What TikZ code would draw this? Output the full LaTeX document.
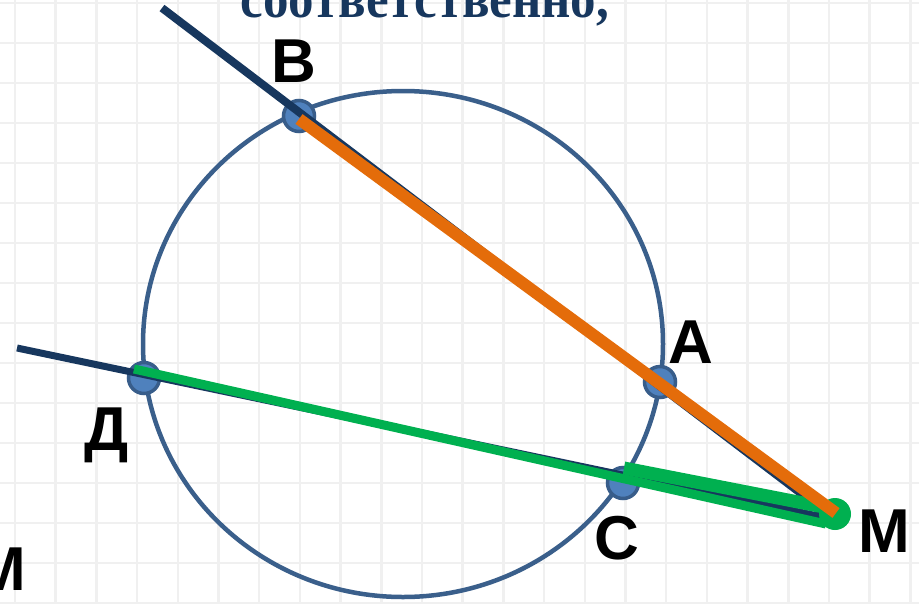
\documentclass[tikz,border=0pt]{standalone}
\usepackage{fontspec}
\setmainfont{Liberation Serif}
\newfontfamily\labfont{Liberation Sans}
\definecolor{navy}{HTML}{17375E}
\definecolor{circblue}{HTML}{3A5F8B}
\definecolor{dotfill}{HTML}{4F81BD}
\definecolor{dotedge}{HTML}{385D8A}
\definecolor{segorange}{HTML}{E46C0A}
\definecolor{seggreen}{HTML}{00B050}
\definecolor{gridgray}{HTML}{F0F0F0}
\tikzset{
  gridline/.style={draw=gridgray, line width=2.5pt},
  circline/.style={draw=circblue, line width=4.5pt},
  ptdot/.style={circle, fill=dotfill, draw=dotedge, line width=3.5pt, minimum size=31pt, inner sep=0pt},
  navyline/.style={draw=navy, line width=8pt, line join=miter},
  greenthin/.style={draw=seggreen, line width=9pt},
  greenthick/.style={draw=seggreen, line width=13pt},
  orangeseg/.style={draw=segorange, line width=12pt},
  ptlabel/.style={anchor=base, inner sep=0pt, font=\labfont\bfseries\fontsize{62}{70}\selectfont},
}
\begin{document}
\begin{tikzpicture}[x=1pt,y=-1pt]
\useasboundingbox (0,0) rectangle (919,603);
\fill[white] (0,0) rectangle (919,603);
\foreach \i in {0,...,22} \draw[gridline] ({15+\i*40.7},0) -- ++(0,603);
\foreach \j in {0,...,15} \draw[gridline] (0,{3+\j*40}) -- ++(919,0);

% title (cut off at top)
\node[anchor=base, inner sep=0pt, text=navy, xscale=0.91, font=\bfseries\fontsize{56}{60}\selectfont] (title) at (425,17) {соответственно,};

% circle
\draw[circline] (403,344) ellipse [x radius=260, y radius=253];

% points
\coordinate (B) at (299,116);
\coordinate (A) at (660,382);
\coordinate (D) at (144,378);
\coordinate (C) at (623,483);
\coordinate (M) at (834,513);
\node[ptdot] (dB) at (B) {};
\node[ptdot] (dA) at (A) {};
\node[ptdot] (dD) at (D) {};
\node[ptdot] (dC) at (C) {};

% navy angle
\coordinate (n1) at (162,8);
\coordinate (n2) at (17,348);
\coordinate (v1) at (832,517);
\coordinate (v2) at (818,516);
\coordinate (v3) at (818,508);
\draw[navyline] (n1) -- (v1);
\draw[navyline, line width=7pt] (n2) -- (v2) -- (v3);

% green segments
\coordinate (Ds) at (134,369);
\coordinate (Me) at (826,524);
\coordinate (Cs) at (624,468);
\coordinate (Mc) at (834,509);
\draw[greenthin] (Ds) -- (Me);
\draw[greenthick] (Cs) -- (Mc);
\node[circle, fill=seggreen, minimum size=32pt, inner sep=0pt] (gM) at (835,514) {};

% orange segment
\coordinate (Bs) at (299,119);
\coordinate (Mo) at (836,513);
\draw[orangeseg] (Bs) -- (Mo);

% labels
\node[ptlabel] (lB) at (294,82) {B};
\node[ptlabel] (lA) at (691,363) {A};
\node[ptlabel] (lD) at (107,450) {Д};
\node[ptlabel] (lC) at (617,559) {C};
\node[ptlabel] (lM) at (884,552) {M};
\node[ptlabel, anchor=base east] (lM2) at (26,590) {М};
\end{tikzpicture}
\end{document}
